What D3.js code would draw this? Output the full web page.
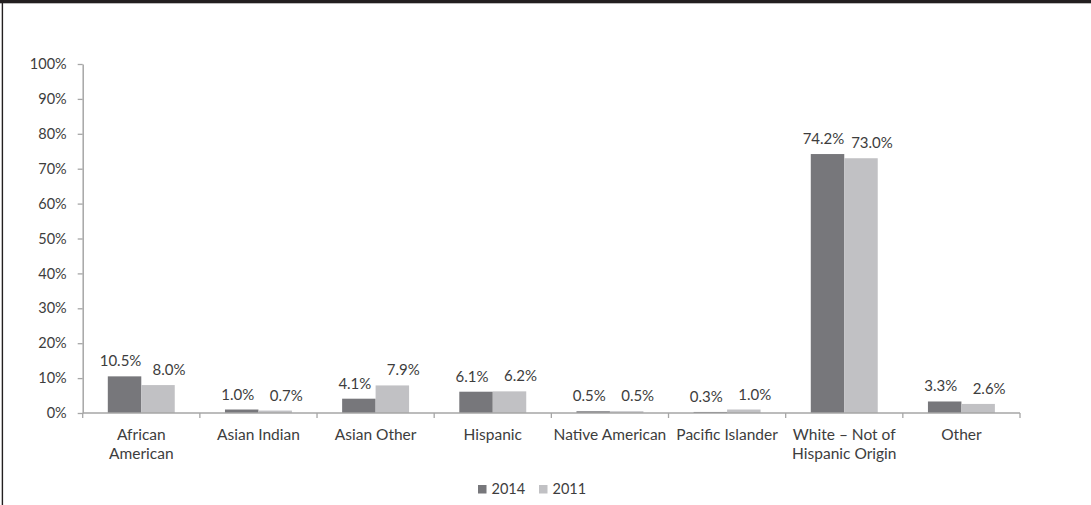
<!DOCTYPE html>
<html>
<head>
<meta charset="utf-8">
<script src="https://cdn.jsdelivr.net/npm/d3@7"></script>
<style>
  html, body { margin: 0; padding: 0; background: #fff; }
  svg { display: block; }
  text { font-family: Lato, "Noto Sans", sans-serif; fill: #3d3d3d; }
</style>
</head>
<body>
<svg id="chart" width="1091" height="505"></svg>
<script>
const categories = ["African\nAmerican", "Asian Indian", "Asian Other", "Hispanic", "Native American", "Pacific Islander", "White – Not of\nHispanic Origin", "Other"];
const seriesNames = ["2014", "2011"];
const values2014 = [10.5, 1.0, 4.1, 6.1, 0.5, 0.3, 74.2, 3.3];
const values2011 = [8.0, 0.7, 7.9, 6.2, 0.5, 1.0, 73.0, 2.6];
const yTicks = [0, 10, 20, 30, 40, 50, 60, 70, 80, 90, 100];

(function () {
const seriesValues = { "2014": values2014, "2011": values2011 };
const colors = { "2014": "#77777b", "2011": "#c1c1c4" };
const labelDx = { "2014": -4, "2011": 11 };

const svg = d3.select("#chart");
const W = 1091, H = 505;

// frame: top band and left border
svg.append("rect").attr("x", 0).attr("y", 0).attr("width", W).attr("height", 3.3).attr("fill", "#231f20");
svg.append("rect").attr("x", 1.7).attr("y", 0).attr("width", 1.4).attr("height", H).attr("fill", "#231f20");

const mLeft = 82.7, mRight = 1020, mTop = 64, mBottom = 413;

const x0 = d3.scaleBand().domain(categories).range([mLeft, mRight]).paddingInner(0).paddingOuter(0);
const x1 = d3.scaleBand().domain(seriesNames).range([0, x0.bandwidth()]).paddingInner(0).paddingOuter(0.75);
const y = d3.scaleLinear().domain([0, 100]).range([mBottom, mTop]);

const axisColor = "#a6a6a6";

// y axis
const yAxis = d3.axisLeft(y).tickValues(yTicks).tickFormat(d => d + "%").tickSize(5).tickSizeOuter(0).tickPadding(11);
const gy = svg.append("g").attr("transform", `translate(${mLeft},0)`).call(yAxis);
gy.select(".domain").attr("stroke", axisColor).attr("stroke-width", 1.5);
gy.selectAll(".tick line").attr("stroke", axisColor).attr("stroke-width", 1.3);
gy.selectAll(".tick text").attr("font-size", 14.5).attr("font-family", "Lato, 'Noto Sans', sans-serif").attr("fill", "#3d3d3d");

// bars
const groups = svg.append("g").selectAll("g").data(categories).join("g")
  .attr("transform", d => `translate(${x0(d)},0)`);

groups.selectAll("rect").data((c, i) => seriesNames.map(s => ({ s, v: seriesValues[s][i] })))
  .join("rect")
  .attr("x", d => x1(d.s))
  .attr("y", d => y(d.v))
  .attr("width", x1.bandwidth())
  .attr("height", d => mBottom - y(d.v))
  .attr("fill", d => colors[d.s]);

groups.selectAll("text.val").data((c, i) => seriesNames.map(s => ({ s, v: seriesValues[s][i] })))
  .join("text")
  .attr("class", "val")
  .attr("x", d => x1(d.s) + x1.bandwidth() / 2 + labelDx[d.s])
  .attr("y", d => y(d.v) - 10)
  .attr("text-anchor", "middle")
  .attr("font-size", 15)
  .text(d => d.v.toFixed(1) + "%");

// x axis line
svg.append("line").attr("x1", mLeft).attr("x2", mRight).attr("y1", mBottom).attr("y2", mBottom)
  .attr("stroke", axisColor).attr("stroke-width", 1.5);
// category boundary ticks
const bounds = categories.map(c => x0(c)).concat([mRight]);
svg.append("g").selectAll("line").data(bounds).join("line")
  .attr("x1", d => d).attr("x2", d => d).attr("y1", mBottom).attr("y2", mBottom + 5)
  .attr("stroke", axisColor).attr("stroke-width", 1.3);

// category labels
const cl = svg.append("g").selectAll("text").data(categories).join("text")
  .attr("text-anchor", "middle")
  .attr("font-size", 15.5)
  .attr("transform", d => `translate(${x0(d) + x0.bandwidth() / 2},440)`);
cl.selectAll("tspan").data(d => d.split("\n")).join("tspan")
  .attr("x", 0).attr("dy", (d, i) => i === 0 ? 0 : 18.5).text(d => d);

// legend
const legend = svg.append("g");
const legendX = [478, 539];
seriesNames.forEach((s, i) => {
  legend.append("rect").attr("x", legendX[i]).attr("y", 485).attr("width", 8.5).attr("height", 8.5).attr("fill", colors[s]);
  legend.append("text").attr("x", legendX[i] + 13.5).attr("y", 494).attr("font-size", 14.5).text(s);
});
})();
</script>
</body>
</html>
